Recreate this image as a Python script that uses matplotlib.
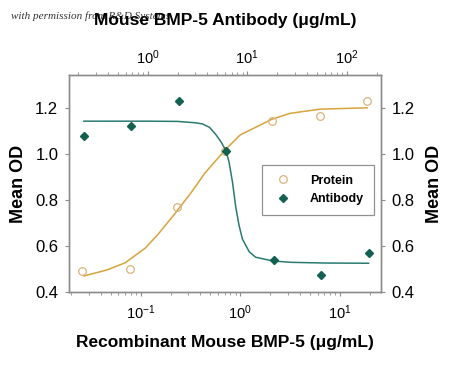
import numpy as np
import matplotlib.pyplot as plt
from matplotlib.ticker import LogLocator, NullFormatter, FixedLocator

# Protein (bottom axis, ug/mL)
prot_x = [0.026, 0.078, 0.234, 0.703, 2.11, 6.33, 19.0]
prot_y = [0.494, 0.502, 0.768, 1.014, 1.144, 1.164, 1.230]
# fitted curve
prot_fit_x = [0.027, 0.046, 0.070, 0.111, 0.151, 0.222, 0.327, 0.445, 0.707,
              1.0, 1.59, 2.08, 3.18, 6.37, 18.9]
prot_fit_y = [0.471, 0.497, 0.528, 0.591, 0.653, 0.742, 0.836, 0.918, 1.017,
              1.082, 1.125, 1.150, 1.176, 1.194, 1.200]

# Antibody (top axis, ug/mL)
ab_x = [0.229, 0.688, 2.06, 6.19, 18.6, 55.7, 167]
ab_y = [1.079, 1.119, 1.228, 1.014, 0.539, 0.475, 0.569]
ab_fit_x = [0.229, 1.0, 2.0, 3.03, 3.57, 4.2, 4.83, 5.42, 6.14, 6.58, 7.12,
            7.69, 8.30, 8.99, 10.5, 12.2, 18.1, 27.6, 60, 166]
ab_fit_y = [1.142, 1.142, 1.141, 1.135, 1.130, 1.115, 1.085, 1.055, 1.014,
            0.965, 0.880, 0.770, 0.690, 0.630, 0.576, 0.552, 0.536, 0.530,
            0.527, 0.526]

c_prot = '#d6a43a'
c_prot_m = '#d9b47a'
c_ab = '#2b7a72'
c_ab_m = '#12604f'
c_spine = '#8c8c8c'

sans = ['Liberation Sans', 'DejaVu Sans']
plt.rcParams['font.family'] = sans
plt.rcParams['mathtext.fontset'] = 'custom'
plt.rcParams['mathtext.rm'] = 'Liberation Sans'

fig = plt.figure(figsize=(4.5, 3.67), dpi=100)
ax = fig.add_axes([0.1544, 0.2035, 0.6916, 0.592])
ax.set_xscale('log')
ax.set_xlim(0.0193, 25.9)
ax.set_ylim(0.4, 1.342)

ax.plot(prot_fit_x, prot_fit_y, color=c_prot, lw=1.1)
lp, = ax.plot(prot_x, prot_y, 'o', mfc='none', mec=c_prot_m, ms=5.5, mew=0.9,
              label='Protein')

ax2 = ax.twiny()
ax2.set_xscale('log')
ax2.set_xlim(0.0193 * 8.5, 25.9 * 8.5)
ax2.plot(ab_fit_x, ab_fit_y, color=c_ab, lw=1.1)
la, = ax2.plot(ab_x, ab_y, 'D', color=c_ab_m, ms=4.5, label='Antibody')

for a, pad in ((ax, 5), (ax2, 3)):
    for s in a.spines.values():
        s.set_color(c_spine)
        s.set_linewidth(1.0)
    a.xaxis.set_major_locator(LogLocator(base=10))
    a.xaxis.set_minor_locator(LogLocator(base=10, subs=np.arange(2, 10)))
    a.xaxis.set_minor_formatter(NullFormatter())
    a.tick_params(axis='x', which='major', length=3, color=c_spine, direction='out',
                  labelsize=10.5, pad=pad)
    a.tick_params(axis='x', which='minor', length=2, color=c_spine, direction='out')

ax.yaxis.set_major_locator(FixedLocator([0.4, 0.6, 0.8, 1.0, 1.2]))
ax.yaxis.set_major_formatter(plt.FuncFormatter(lambda v, p: f'{v:.1f}'))
ax.tick_params(axis='y', length=3, color=c_spine, labelsize=12, right=True,
               labelright=True, pad=5)

ax.set_ylabel('Mean OD', fontsize=13, fontweight='bold', labelpad=6)
fig.text(0.966, 0.50, 'Mean OD', rotation=90, fontsize=13, fontweight='bold',
         ha='center', va='center')

ax.set_xlabel('Recombinant Mouse BMP-5 (\u03bcg/mL)', fontsize=12.5,
              fontweight='bold', labelpad=9)
fig.text(0.5, 0.945, 'Mouse BMP-5 Antibody (\u03bcg/mL)', fontsize=12.5,
         fontweight='bold', ha='center', va='center')
fig.text(0.025, 0.955, 'with permission from R&D Systems', fontsize=8,
         style='italic', family=['Liberation Serif', 'DejaVu Serif'],
         color='#333333', ha='left', va='center', zorder=0)

leg = ax2.legend(handles=[lp, la], loc='center', bbox_to_anchor=(0.7985, 0.471),
                 frameon=True, fancybox=False, edgecolor='#777777',
                 prop={'weight': 'bold', 'size': 9},
                 handletextpad=1.2, handlelength=1.8, borderpad=0.8,
                 labelspacing=0.5, borderaxespad=0)
leg.get_frame().set_linewidth(0.9)

fig.savefig('out.png', dpi=100)
